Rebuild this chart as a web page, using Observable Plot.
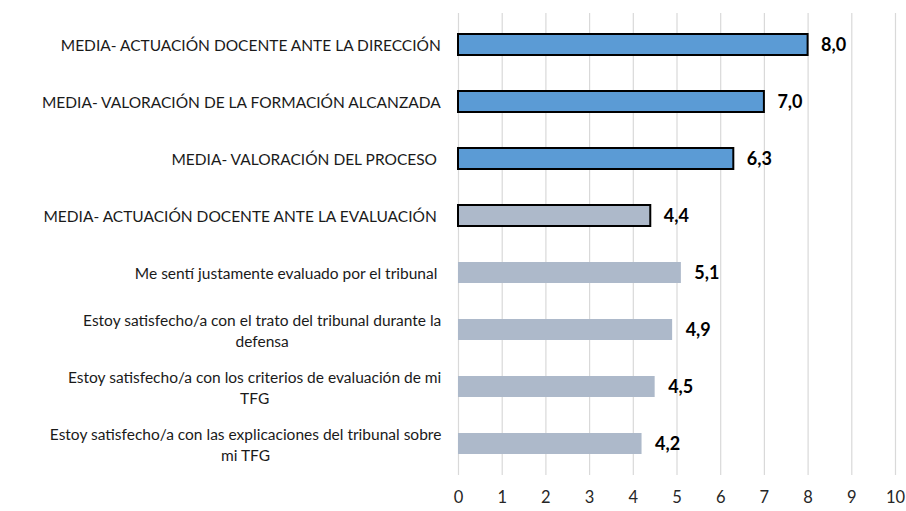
<!DOCTYPE html>
<html>
<head>
<meta charset="utf-8">
<script src="https://cdn.jsdelivr.net/npm/d3@7"></script>
<script src="https://cdn.jsdelivr.net/npm/@observablehq/plot@0.6"></script>
<style>
  html, body { margin: 0; padding: 0; background: #fff; }
  #chart svg { display: block; }
</style>
</head>
<body>
<div id="chart"></div>
<script>
const categories = [
  "MEDIA- ACTUACIÓN DOCENTE ANTE LA DIRECCIÓN",
  "MEDIA- VALORACIÓN DE LA FORMACIÓN ALCANZADA",
  "MEDIA- VALORACIÓN DEL PROCESO ",
  "MEDIA- ACTUACIÓN DOCENTE ANTE LA EVALUACIÓN ",
  "Me sentí justamente evaluado por el tribunal ",
  "Estoy satisfecho/a con el trato del tribunal durante la\ndefensa",
  "Estoy satisfecho/a con los criterios de evaluación de mi\nTFG",
  "Estoy satisfecho/a con las explicaciones del tribunal sobre\nmi TFG"
];
const values = [8.0, 7.0, 6.3, 4.4, 5.1, 4.9, 4.5, 4.2];
const groups = ["media", "media", "media", "mediaEval", "item", "item", "item", "item"];
const xTicks = [0, 1, 2, 3, 4, 5, 6, 7, 8, 9, 10];

const data = categories.map((c, i) => ({cat: c, value: values[i], group: groups[i]}));

const FONT = "Lato, 'Open Sans', sans-serif";
const LABEL_SIZE = 15.5;

const canvas = document.createElement("canvas");
const ctx = canvas.getContext("2d");
ctx.font = `${LABEL_SIZE}px Lato`;
function blockWidth(s) {
  return Math.max(...s.split("\n").map(l => ctx.measureText(l).width));
}

const fillFor = {media: "#5B9BD5", mediaEval: "#ADB9CA", item: "#ADB9CA"};
const strokeFor = {media: "#000", mediaEval: "#000", item: "none"};

const labelMarks = categories.map(c => Plot.text([c], {
  x: () => 0, y: d => d, text: d => d,
  textAnchor: "middle",
  dx: -(17 + blockWidth(c) / 2),
  lineHeight: 1.3,
  fontSize: LABEL_SIZE,
  fill: "#1a1a1a"
}));

const chart = Plot.plot({
  width: 906,
  height: 511,
  marginLeft: 458,
  marginRight: 11,
  marginTop: 13,
  marginBottom: 36,
  style: {fontFamily: FONT, background: "#fff"},
  x: {domain: [0, 10], ticks: xTicks, label: null},
  y: {domain: categories, paddingInner: 0.64, paddingOuter: 0.32, axis: null},
  marks: [
    Plot.ruleX(xTicks, {stroke: "#d9d9d9", strokeWidth: 1.2}),
    Plot.barX(data, {
      x: "value", y: "cat",
      fill: d => fillFor[d.group],
      stroke: d => strokeFor[d.group],
      strokeWidth: 2
    }),
    Plot.text(data, {
      x: "value", y: "cat",
      text: d => d.value.toFixed(1).replace(".", ","),
      textAnchor: "start", dx: 13,
      fontWeight: "bold", fontSize: 18, fill: "#000"
    }),
    ...labelMarks,
    Plot.axisX({ticks: xTicks, tickSize: 0, tickPadding: 16, fontSize: 16.5, fill: "#262626", label: null, tickFormat: d => String(d)})
  ]
});
document.getElementById("chart").appendChild(chart);
</script>
</body>
</html>
